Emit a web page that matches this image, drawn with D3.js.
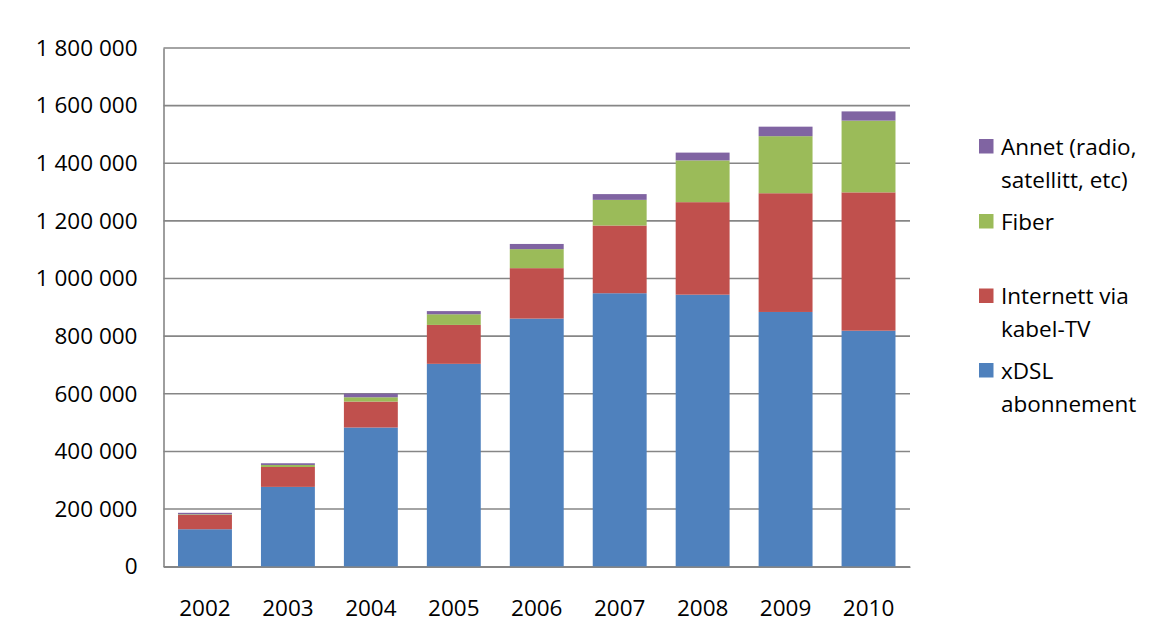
<!DOCTYPE html>
<html><head><meta charset="utf-8">
<script src="https://cdn.jsdelivr.net/npm/d3@7"></script>
<style>
html,body{margin:0;padding:0;background:#fff;}
svg text{font-family:"Open Sans",sans-serif;fill:#000;}
</style></head>
<body>
<svg id="chart" width="1159" height="637"></svg>
<script>
const years = ["2002","2003","2004","2005","2006","2007","2008","2009","2010"];
const xdsl   = [130000, 277000, 483000, 704000, 861000, 949000, 944000, 884000, 819000];
const kabel  = [50000, 69000, 90000, 135000, 175000, 235000, 321000, 412000, 480000];
const fiber  = [2000, 7000, 15000, 37000, 66000, 89000, 145000, 198000, 249000];
const annet  = [5000, 6000, 13000, 11000, 18000, 20000, 27000, 33000, 32000];
const seriesNames = ["xDSL abonnement","Internett via kabel-TV","Fiber","Annet (radio, satellitt, etc)"];
const seriesColors = ["#4F81BD","#C0504D","#9BBB59","#8064A2"];
const yTicks = [0,200000,400000,600000,800000,1000000,1200000,1400000,1600000,1800000];

(function(){
const keys = ["xdsl","kabel","fiber","annet"];
const table = years.map((yr,i)=>({year:yr, xdsl:xdsl[i], kabel:kabel[i], fiber:fiber[i], annet:annet[i]}));
const stacked = d3.stack().keys(keys)(table);

const svg = d3.select("#chart");
const mLeft = 163.5, mRight = 910, mTop = 48, mBottom = 566.7;
const x = d3.scaleBand().domain(years).range([mLeft, mRight]).paddingInner(0.35).paddingOuter(0.175);
const y = d3.scaleLinear().domain([0,1800000]).range([mBottom, mTop]);
const fs = "22.5px";

const fmt = v => d3.format(",")(v).replace(/,/g," ");

svg.append("g").selectAll("line").data(yTicks).join("line")
  .attr("x1", mLeft).attr("x2", mRight)
  .attr("y1", d=>y(d)).attr("y2", d=>y(d))
  .attr("stroke","#868686").attr("stroke-width",1.6);

const yAxis = d3.axisLeft(y).tickValues(yTicks).tickFormat(fmt).tickSize(0).tickPadding(26);
const gy = svg.append("g").attr("transform",`translate(${mLeft},0)`).call(yAxis);
gy.select(".domain").attr("stroke","#868686").attr("stroke-width",1.6);
gy.selectAll("text").style("font-size",fs).attr("fill","#000");

svg.append("g").selectAll("g").data(stacked).join("g")
  .attr("fill",(d,i)=>seriesColors[i])
  .selectAll("rect").data(d=>d).join("rect")
  .attr("x", d=>x(d.data.year))
  .attr("width", x.bandwidth())
  .attr("y", d=>y(d[1]))
  .attr("height", d=>y(d[0])-y(d[1]));

const xAxis = d3.axisBottom(x).tickSize(0).tickPadding(33);
const gx = svg.append("g").attr("transform",`translate(0,${mBottom})`).call(xAxis);
gx.select(".domain").attr("stroke","#868686").attr("stroke-width",1.6);
gx.selectAll("text").style("font-size",fs).attr("fill","#000");

const legendItems = [
  {i:3, lines:["Annet (radio,","satellitt, etc)"], y:139},
  {i:2, lines:["Fiber"], y:214},
  {i:1, lines:["Internett via","kabel-TV"], y:288.5},
  {i:0, lines:["xDSL","abonnement"], y:363}
];
const lg = svg.append("g");
legendItems.forEach(it=>{
  lg.append("rect").attr("x",979).attr("y",it.y).attr("width",14.5).attr("height",14.5).attr("fill",seriesColors[it.i]);
  const t = lg.append("text").attr("x",1001).attr("y",it.y+15.5).style("font-size",fs);
  it.lines.forEach((l,k)=>t.append("tspan").attr("x",1001).attr("dy",k===0?0:33).text(l));
});
})();
</script>
</body></html>
